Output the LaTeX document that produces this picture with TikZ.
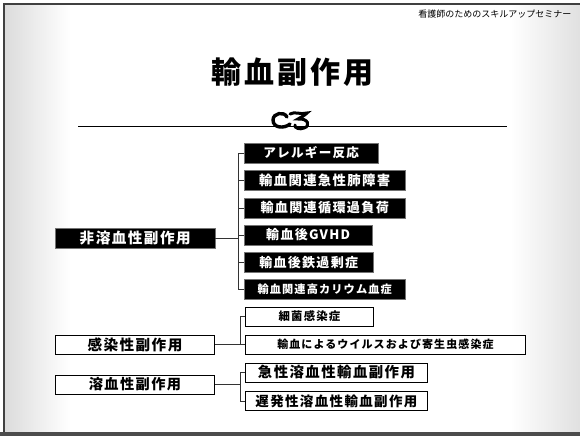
\documentclass[tikz,border=0pt]{standalone}
\usepackage{fontspec}
\setmainfont{Noto Sans CJK JP}
\newfontfamily\jp{Noto Sans CJK JP}[LetterSpace=10]
\newcommand{\px}[1]{\fontsize{#1}{#1}\selectfont}

\tikzset{
  darkbox/.style={fill=black, draw=black!55, text=white, inner sep=0pt,
    minimum height=20pt, anchor=west},
  lightbox/.style={fill=white, draw=black, line width=0.9pt, inner sep=0pt,
    minimum height=19pt, anchor=west},
  link/.style={draw=black!80, line width=0.8pt},
}

\begin{document}
\begin{tikzpicture}[x=1pt,y=-1pt]
	\useasboundingbox (0,0) rectangle (580,436);

	% slide backdrop
	\fill[white] (0,0) rectangle (580,436);
	\shade[left color=black!14, right color=white] (4,4) rectangle (70,432);
	\shade[left color=white, right color=black!12] (510,4) rectangle (580,432);
	\fill[black!70] (0,432) rectangle (580,436);
	\draw[black!75, line width=1.5pt] (4,432) -- (4,4) -- (580,4);

	\node[anchor=east, font=\px{9}] (header) at (575,14) {看護師のためのスキルアップセミナー};
	\node[font=\jp\bfseries\px{30}] (title) at (292,72) {輸血副作用};

	% rule with the ornament
	\draw[line width=0.8pt] (78,126) -- (507,126);
	\fill[white] (271,110) rectangle (311,125);
	\draw[line width=3.4pt, line cap=round] (287,117) .. controls (284,111) and (273,113) .. (273,120)
	  .. controls (273,128) and (284,129) .. (290,124);
	\draw[line width=3pt, line cap=round] (290,114) .. controls (295,111) and (300,115) .. (307,113)
	  .. controls (304,116) and (301,117) .. (298,119) .. controls (308,118) and (311,126) .. (304,128)
	  .. controls (300,130) and (294,128) .. (295,125);

	% groups
	\node[darkbox, minimum width=160pt, font=\jp\bfseries\px{14.6}] (nonhem) at (55,238) {非溶血性副作用};
	\node[lightbox, minimum width=159pt, font=\jp\bfseries\px{14.6}] (infect) at (55,344.5) {感染性副作用};
	\node[lightbox, minimum width=159pt, font=\jp\bfseries\px{14.2}] (hemo) at (55,384.5) {溶血性副作用};

	% non-haemolytic reactions
	\foreach \i/\y/\w/\s/\t in {1/153/134/12.6/アレルギー反応,
	    2/180.5/161/13.4/輸血関連急性肺障害,
	    3/208/161/13.1/輸血関連循環過負荷,
	    4/235/128/13/輸血後GVHD,
	    5/262.5/129/13/輸血後鉄過剰症,
	    6/289.5/161/11.2/輸血関連高カリウム血症}{
	  \node[darkbox, minimum width=\w pt, font=\jp\bfseries\px{\s}] (nh\i) at (244,\y) {\t};
	  \draw[link] (nonhem.east) -- ++(23,0) |- (nh\i.west);
	}

	% infections
	\node[lightbox, minimum width=128pt, font=\jp\bfseries\px{11.4}] (in1) at (245,316.5) {細菌感染症};
	\node[lightbox, minimum width=280pt, font=\jp\bfseries\px{11}] (in2) at (245,344.5) {輸血によるウイルスおよび寄生虫感染症};
	\foreach \i in {1,2}
	  \draw[link] (infect.east) -- ++(25,0) |- (in\i.west);

	% haemolytic reactions
	\node[lightbox, minimum width=182pt, font=\jp\bfseries\px{14.4}] (hm1) at (245,372.5) {急性溶血性輸血副作用};
	\node[lightbox, minimum width=182pt, font=\jp\bfseries\px{13.5}] (hm2) at (245,401) {遅発性溶血性輸血副作用};
	\foreach \i in {1,2}
	  \draw[link] (hemo.east) -- ++(25,0) |- (hm\i.west);
\end{tikzpicture}
\end{document}
